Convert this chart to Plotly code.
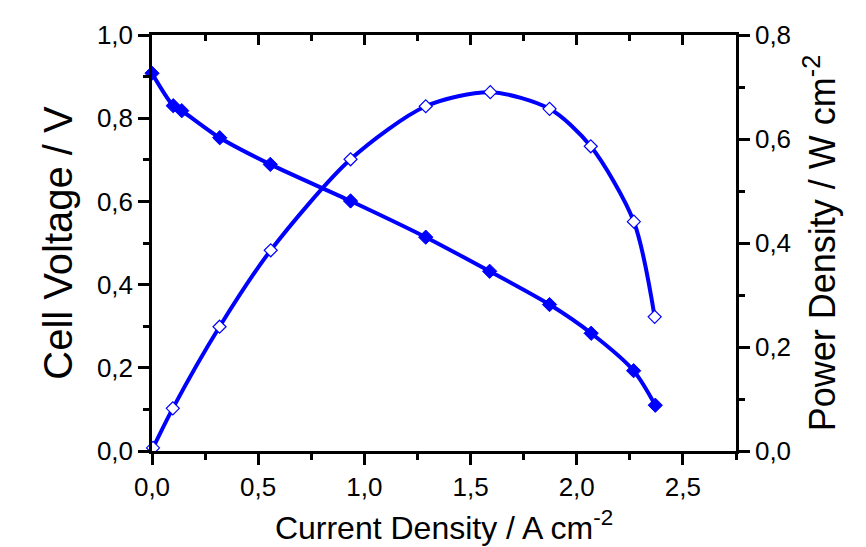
import plotly.graph_objects as go

# Cell voltage (left axis) vs current density
current_v = [0.0, 0.10, 0.14, 0.319, 0.557, 0.935, 1.289, 1.590, 1.872, 2.068, 2.268, 2.370]
voltage = [0.908, 0.830, 0.818, 0.753, 0.689, 0.601, 0.514, 0.432, 0.352, 0.283, 0.193, 0.110]

# Power density (right axis) vs current density
current_p = [0.005, 0.098, 0.318, 0.559, 0.935, 1.289, 1.593, 1.872, 2.066, 2.269, 2.367]
power = [0.006, 0.082, 0.239, 0.386, 0.561, 0.663, 0.690, 0.658, 0.586, 0.441, 0.258]

x_title = "Current Density / A cm<sup>-2</sup>"
y_title = "Cell Voltage / V"
y2_title = "Power Density / W cm<sup>-2</sup>"

BLUE = "#0000FF"
FONT = "Liberation Sans, Arial, sans-serif"

fig = go.Figure()
fig.add_trace(go.Scatter(
    x=current_v, y=voltage, mode="lines+markers",
    line=dict(color=BLUE, width=4, shape="spline", smoothing=0.8),
    marker=dict(symbol="diamond", size=11, color=BLUE, line=dict(color=BLUE, width=1)),
    showlegend=False, cliponaxis=False, xaxis="x", yaxis="y"))
fig.add_trace(go.Scatter(
    x=current_p, y=power, mode="lines+markers",
    line=dict(color=BLUE, width=4, shape="spline", smoothing=0.8),
    marker=dict(symbol="diamond", size=10, color="white", line=dict(color=BLUE, width=1.2)),
    showlegend=False, cliponaxis=False, xaxis="x", yaxis="y2"))

axis_common = dict(showline=True, linecolor="black", linewidth=2.5, showgrid=False,
                   zeroline=False, tickcolor="black", tickwidth=2.5, automargin=False,
                   tickfont=dict(family=FONT, size=26, color="black"))

fig.update_layout(
    width=866, height=547,
    margin=dict(l=144, r=138, t=27, b=104),
    paper_bgcolor="white", plot_bgcolor="white",
    separators=",.",
    font=dict(family=FONT, color="black"),
    xaxis=dict(range=[0, 2.75], tickvals=[0, 0.5, 1.0, 1.5, 2.0, 2.5], tickformat=".1f",
               ticks="outside", ticklen=11,
               minor=dict(ticks="outside", ticklen=6, tickwidth=2.5, tickcolor="black", dtick=0.25, tick0=0),
               title=dict(text=x_title, font=dict(family=FONT, size=32), standoff=16),
               **axis_common),
    xaxis2=dict(range=[0, 2.75], overlaying="x", side="top", anchor="y", automargin=False,
                showline=True, linecolor="black", linewidth=2.5, showgrid=False, zeroline=False,
                ticks="inside", ticklen=10, tickcolor="black", tickwidth=2.5,
                tickvals=[0, 0.5, 1.0, 1.5, 2.0, 2.5], showticklabels=False,
                minor=dict(ticks="inside", ticklen=6, tickwidth=2.5, tickcolor="black", dtick=0.25, tick0=0)),
    yaxis=dict(range=[0, 1.0], dtick=0.2, tickformat=".1f", ticks="outside", ticklen=11,
               minor=dict(ticks="outside", ticklen=6, tickwidth=2.5, tickcolor="black", dtick=0.1),
               title=dict(text=y_title, font=dict(family=FONT, size=40), standoff=12),
               **axis_common),
    yaxis2=dict(range=[0, 0.8], dtick=0.2, tickformat=".1f", overlaying="y", side="right",
                anchor="x", ticks="outside", ticklen=11,
                minor=dict(ticks="outside", ticklen=6, tickwidth=2.5, tickcolor="black", dtick=0.1),
                title=dict(text=y2_title, font=dict(family=FONT, size=36), standoff=20),
                **axis_common),
)
# dummy trace so xaxis2 renders
fig.add_trace(go.Scatter(x=[None], y=[None], xaxis="x2", yaxis="y", showlegend=False, hoverinfo="skip"))

fig.write_html("out.html")
